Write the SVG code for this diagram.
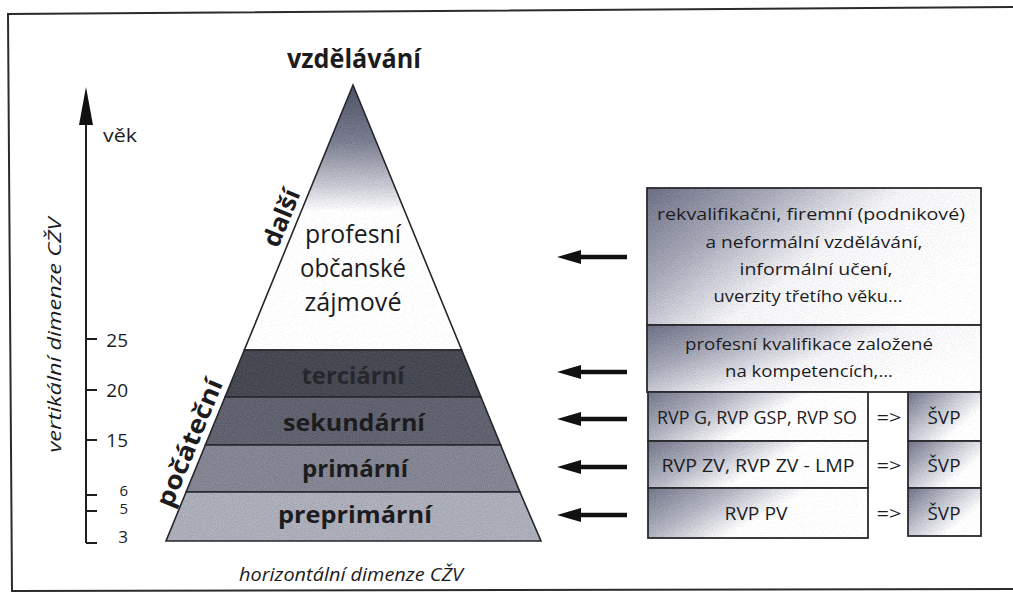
<svg xmlns="http://www.w3.org/2000/svg" width="1013" height="609" viewBox="0 0 1013 609">
<defs>
  <style>
    text { font-family: "Open Sans", "Noto Sans", "DejaVu Sans", sans-serif; fill: #1c1c1e; }
    .b { font-weight: bold; }
    .it { font-style: italic; }
    .mid { text-anchor: middle; }
    .end { text-anchor: end; }
    .box { stroke: #2a2a2e; stroke-width: 1.8; }
    .edge { fill: none; stroke: #26272c; stroke-width: 1.6; }
    .axis { stroke: #1e1e20; stroke-width: 2; fill: none; }
    .arrow { stroke: #111; stroke-width: 4.5; fill: none; marker-end: url(#head); }
  </style>
  <marker id="head" viewBox="0 0 24 14" refX="3" refY="7" markerWidth="24" markerHeight="14" markerUnits="userSpaceOnUse" orient="auto">
    <path d="M0,0 L24,7 L0,14 Z" fill="#111"/>
  </marker>
  <filter id="grain" x="0" y="0" width="100%" height="100%" color-interpolation-filters="sRGB">
    <feTurbulence type="fractalNoise" baseFrequency="0.9" numOctaves="2" seed="4" result="n"/>
    <feColorMatrix in="n" type="matrix" values="0.33 0.33 0.33 0 0  0.33 0.33 0.33 0 0  0.33 0.33 0.33 0 0  0 0 0 0 1" result="g"/>
    <feComposite in="SourceGraphic" in2="g" operator="arithmetic" k1="0" k2="1" k3="0.26" k4="-0.13" result="m"/>
    <feComposite in="m" in2="SourceGraphic" operator="in"/>
  </filter>
  <linearGradient id="topGrad" gradientUnits="userSpaceOnUse" x1="0" y1="85" x2="0" y2="212">
    <stop offset="0" stop-color="#4e5163"/>
    <stop offset="0.45" stop-color="#7b7e90"/>
    <stop offset="0.8" stop-color="#c9cad4"/>
    <stop offset="1" stop-color="#ffffff"/>
  </linearGradient>
  <linearGradient id="boxA" x1="0" y1="0" x2="1" y2="0.55">
    <stop offset="0" stop-color="#6c6f84"/>
    <stop offset="0.3" stop-color="#a7a9b8"/>
    <stop offset="0.6" stop-color="#f4f4f7"/>
    <stop offset="1" stop-color="#ffffff"/>
  </linearGradient>
  <linearGradient id="boxR" x1="0" y1="0" x2="1" y2="0.4">
    <stop offset="0" stop-color="#737689"/>
    <stop offset="0.35" stop-color="#b3b5c2"/>
    <stop offset="0.65" stop-color="#ffffff"/>
    <stop offset="1" stop-color="#ffffff"/>
  </linearGradient>
  <linearGradient id="boxS" x1="0" y1="0" x2="1" y2="0.8">
    <stop offset="0" stop-color="#6f7286"/>
    <stop offset="0.45" stop-color="#c2c4cf"/>
    <stop offset="0.8" stop-color="#ffffff"/>
  </linearGradient>
</defs>

<rect x="0" y="0" width="1013" height="609" fill="#ffffff"/>

<!-- outer frame -->
<g id="frame" fill="none" stroke="#2b2b2b" stroke-width="2">
  <polyline points="1013,7 8,14 12,591 1013,589"/>
</g>

<!-- vertical axis -->
<g id="axis-vertical">
  <line class="axis" x1="86" y1="122" x2="86" y2="543"/>
  <polygon points="86,87 79,125 93,125" fill="#111"/>
  <polyline class="axis" points="86,543 97,543"/>
  <line class="axis" x1="86" y1="339" x2="97" y2="339"/>
  <line class="axis" x1="86" y1="390" x2="97" y2="390"/>
  <line class="axis" x1="86" y1="440" x2="97" y2="440"/>
  <line class="axis" x1="86" y1="495" x2="97" y2="495"/>
  <line class="axis" x1="86" y1="511" x2="97" y2="511"/>
  <text x="103" y="142" font-size="18" textLength="34" lengthAdjust="spacingAndGlyphs">věk</text>
  <text class="end" x="128" y="347" font-size="19">25</text>
  <text class="end" x="128" y="397" font-size="19">20</text>
  <text class="end" x="128" y="447" font-size="19">15</text>
  <text class="end" x="128" y="496" font-size="15">6</text>
  <text class="end" x="128" y="514" font-size="15">5</text>
  <text class="end" x="128" y="543" font-size="17">3</text>
  <text class="it mid" transform="translate(61,335) rotate(-90)" x="0" y="0" font-size="18" textLength="235" lengthAdjust="spacingAndGlyphs">vertikální dimenze CŽV</text>
</g>

<g id="axis-horizontal">
  <text class="it mid" x="351" y="581" font-size="18" textLength="224" lengthAdjust="spacingAndGlyphs">horizontální dimenze CŽV</text>
</g>

<!-- pyramid -->
<g id="pyramid-top">
  <polygon points="353,85 461.67,350 244.33,350" fill="url(#topGrad)" filter="url(#grain)"/>
  <polygon class="edge" points="353,85 461.67,350 244.33,350"/>
  <text class="b mid" x="354" y="68" font-size="27" textLength="134" lengthAdjust="spacingAndGlyphs">vzdělávání</text>
  <text class="mid" x="353" y="243" font-size="25" textLength="96" lengthAdjust="spacingAndGlyphs">profesní</text>
  <text class="mid" x="353" y="277" font-size="25" textLength="106" lengthAdjust="spacingAndGlyphs">občanské</text>
  <text class="mid" x="353" y="311" font-size="25" textLength="97" lengthAdjust="spacingAndGlyphs">zájmové</text>
</g>

<g id="label-dalsi">
  <text class="b mid" transform="translate(282,218) rotate(-67.7)" x="0" y="8" font-size="25" textLength="60" lengthAdjust="spacingAndGlyphs">další</text>
</g>
<g id="label-pocatecni">
  <text class="b mid" transform="translate(190,443) rotate(-67.7)" x="0" y="8" font-size="25" textLength="136" lengthAdjust="spacingAndGlyphs">počáteční</text>
</g>

<g id="band-terciarni">
  <polygon points="244.33,350 461.67,350 480.95,397 225.05,397" fill="#464852" filter="url(#grain)"/>
  <polygon class="edge" points="244.33,350 461.67,350 480.95,397 225.05,397"/>
  <text class="b mid" x="353" y="384" font-size="24" textLength="103" lengthAdjust="spacingAndGlyphs" style="fill:#26272d">terciární</text>
</g>
<g id="band-sekundarni">
  <polygon points="225.05,397 480.95,397 500.63,445 205.37,445" fill="#60636f" filter="url(#grain)"/>
  <polygon class="edge" points="225.05,397 480.95,397 500.63,445 205.37,445"/>
  <text class="b mid" x="354" y="431" font-size="24" textLength="142" lengthAdjust="spacingAndGlyphs">sekundární</text>
</g>
<g id="band-primarni">
  <polygon points="205.37,445 500.63,445 519.91,492 186.09,492" fill="#838592" filter="url(#grain)"/>
  <polygon class="edge" points="205.37,445 500.63,445 519.91,492 186.09,492"/>
  <text class="b mid" x="355" y="477" font-size="24" textLength="106" lengthAdjust="spacingAndGlyphs">primární</text>
</g>
<g id="band-preprimarni">
  <polygon points="186.09,492 519.91,492 541,541 166,541" fill="#abadb9" filter="url(#grain)"/>
  <polygon class="edge" points="186.09,492 519.91,492 541,541 166,541"/>
  <text class="b mid" x="355" y="523" font-size="24" textLength="154" lengthAdjust="spacingAndGlyphs">preprimární</text>
</g>

<!-- connectors -->
<g id="connectors">
  <line class="arrow" x1="627" y1="257" x2="578" y2="257"/>
  <line class="arrow" x1="627" y1="372" x2="578" y2="372"/>
  <line class="arrow" x1="627" y1="419" x2="578" y2="419"/>
  <line class="arrow" x1="627" y1="467" x2="578" y2="467"/>
  <line class="arrow" x1="627" y1="515" x2="578" y2="515"/>
</g>

<!-- right boxes -->
<g id="box-dalsi">
  <rect x="647" y="188" width="334" height="137" fill="url(#boxA)" filter="url(#grain)"/>
  <rect class="box" x="647" y="188" width="334" height="137" fill="none"/>
  <text class="mid" x="811" y="220" font-size="17" textLength="308" lengthAdjust="spacingAndGlyphs">rekvalifikačni, firemní (podnikové)</text>
  <text class="mid" x="814" y="248" font-size="17" textLength="217" lengthAdjust="spacingAndGlyphs">a neformální vzdělávání,</text>
  <text class="mid" x="816" y="275" font-size="17" textLength="153" lengthAdjust="spacingAndGlyphs">informální učení,</text>
  <text class="mid" x="808" y="302" font-size="17" textLength="189" lengthAdjust="spacingAndGlyphs">uverzity třetího věku...</text>
</g>
<g id="box-terciarni">
  <rect x="647" y="325" width="334" height="67" fill="url(#boxA)" filter="url(#grain)"/>
  <rect class="box" x="647" y="325" width="334" height="67" fill="none"/>
  <text class="mid" x="809" y="350" font-size="17" textLength="248" lengthAdjust="spacingAndGlyphs">profesní kvalifikace založené</text>
  <text class="mid" x="809" y="377" font-size="17" textLength="168" lengthAdjust="spacingAndGlyphs">na kompetencích,...</text>
</g>
<g id="box-rvp-sekundarni">
  <rect x="648" y="392" width="220" height="49" fill="url(#boxR)" filter="url(#grain)"/>
  <rect class="box" x="648" y="392" width="220" height="49" fill="none"/>
  <text class="mid" x="757" y="424" font-size="18" textLength="200" lengthAdjust="spacingAndGlyphs">RVP G, RVP GSP, RVP SO</text>
</g>
<g id="box-rvp-primarni">
  <rect x="648" y="441" width="220" height="47" fill="url(#boxR)" filter="url(#grain)"/>
  <rect class="box" x="648" y="441" width="220" height="47" fill="none"/>
  <text class="mid" x="758" y="472" font-size="18" textLength="193" lengthAdjust="spacingAndGlyphs">RVP ZV, RVP ZV - LMP</text>
</g>
<g id="box-rvp-preprimarni">
  <rect x="648" y="488" width="220" height="50" fill="url(#boxR)" filter="url(#grain)"/>
  <rect class="box" x="648" y="488" width="220" height="50" fill="none"/>
  <text class="mid" x="756" y="520" font-size="18" textLength="63" lengthAdjust="spacingAndGlyphs">RVP PV</text>
</g>
<g id="implies">
  <text class="mid" x="889" y="424" font-size="18" textLength="25" lengthAdjust="spacingAndGlyphs">=&gt;</text>
  <text class="mid" x="889" y="472" font-size="18" textLength="25" lengthAdjust="spacingAndGlyphs">=&gt;</text>
  <text class="mid" x="889" y="520" font-size="18" textLength="25" lengthAdjust="spacingAndGlyphs">=&gt;</text>
</g>
<g id="box-svp-1">
  <rect x="908" y="392" width="73" height="49" fill="url(#boxS)" filter="url(#grain)"/>
  <rect class="box" x="908" y="392" width="73" height="49" fill="none"/>
  <text class="mid" x="944" y="424" font-size="18" textLength="33" lengthAdjust="spacingAndGlyphs">ŠVP</text>
</g>
<g id="box-svp-2">
  <rect x="908" y="441" width="73" height="47" fill="url(#boxS)" filter="url(#grain)"/>
  <rect class="box" x="908" y="441" width="73" height="47" fill="none"/>
  <text class="mid" x="944" y="472" font-size="18" textLength="33" lengthAdjust="spacingAndGlyphs">ŠVP</text>
</g>
<g id="box-svp-3">
  <rect x="908" y="488" width="73" height="48" fill="url(#boxS)" filter="url(#grain)"/>
  <rect class="box" x="908" y="488" width="73" height="48" fill="none"/>
  <text class="mid" x="944" y="520" font-size="18" textLength="33" lengthAdjust="spacingAndGlyphs">ŠVP</text>
</g>
</svg>
